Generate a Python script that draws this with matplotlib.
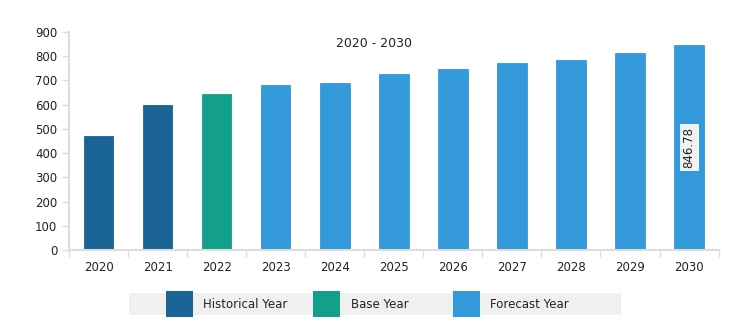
import numpy as np
import matplotlib.pyplot as plt
from matplotlib.patches import Rectangle

years = ['2020', '2021', '2022', '2023', '2024', '2025', '2026', '2027', '2028', '2029', '2030']
values = [470, 600, 643, 682, 691, 727, 748, 772, 786, 813, 846.78]
kinds = ['hist', 'hist', 'base'] + ['fcst'] * 8

colors = {'hist': '#1a6496', 'base': '#13a08b', 'fcst': '#3399db'}
legend_order = ['hist', 'base', 'fcst']
legend_names = {'hist': 'Historical Year', 'base': 'Base Year', 'fcst': 'Forecast Year'}

plt.rcParams['font.family'] = 'DejaVu Sans'

W, H = 729, 332
fig = plt.figure(figsize=(W / 100, H / 100), dpi=100)
ax = fig.add_axes([0.0947, 0.247, 0.891, 0.6566])

x = np.arange(len(years))
ax.bar(x, values, width=0.5, color=[colors[k] for k in kinds],
       edgecolor=[colors[k] for k in kinds], linewidth=0.6)

ax.set_xlim(-0.5, len(years) - 0.5)
ax.set_ylim(0, 900)
ax.set_yticks(range(0, 901, 100))
ax.set_xticks(x)
ax.set_xticklabels(years)
ax.set_xticks(np.arange(-0.5, len(years), 1), minor=True)
ax.tick_params(axis='x', which='major', length=0, pad=8, labelsize=8.5, colors='#222222')
ax.tick_params(axis='x', which='minor', length=5, color='#dddddd', width=1)
ax.tick_params(axis='y', length=5, color='#dddddd', width=1, labelsize=8.5, colors='#222222')
for side in ['top', 'right']:
    ax.spines[side].set_visible(False)
for side in ['left', 'bottom']:
    ax.spines[side].set_color('#dddddd')
    ax.spines[side].set_linewidth(1.5)

ax.text(0.47, 0.945, '2020 - 2030', transform=ax.transAxes, ha='center', va='center',
        fontsize=9, color='#222222')

# value label on the last bar
ax.text(x[-1], values[-1] / 2, f'{values[-1]:.2f}', rotation=90, ha='center', va='center',
        fontsize=8.5, color='#222222',
        bbox=dict(boxstyle='square,pad=0.25', facecolor='#f2f2f2', edgecolor='none'))

# legend strip below the chart (pixel positions converted to figure fractions)
def px(x0, y0):
    return x0 / W, 1 - y0 / H

bx, by = px(129, 315)
fig.add_artist(Rectangle((bx, by), (621 - 129) / W, 22 / H, transform=fig.transFigure,
                         facecolor='#f0f0f0', edgecolor='none'))
patch_x = [166, 313, 453]
text_x = [203, 351, 490]
for k, p, t in zip(legend_order, patch_x, text_x):
    sx, sy = px(p, 317)
    fig.add_artist(Rectangle((sx, sy), 27 / W, 26 / H, transform=fig.transFigure,
                             facecolor=colors[k], edgecolor='none'))
    tx, ty = px(t, 304)
    fig.text(tx, ty, legend_names[k], ha='left', va='center', fontsize=8.5, color='#222222')

fig.savefig('out.png', dpi=100)
